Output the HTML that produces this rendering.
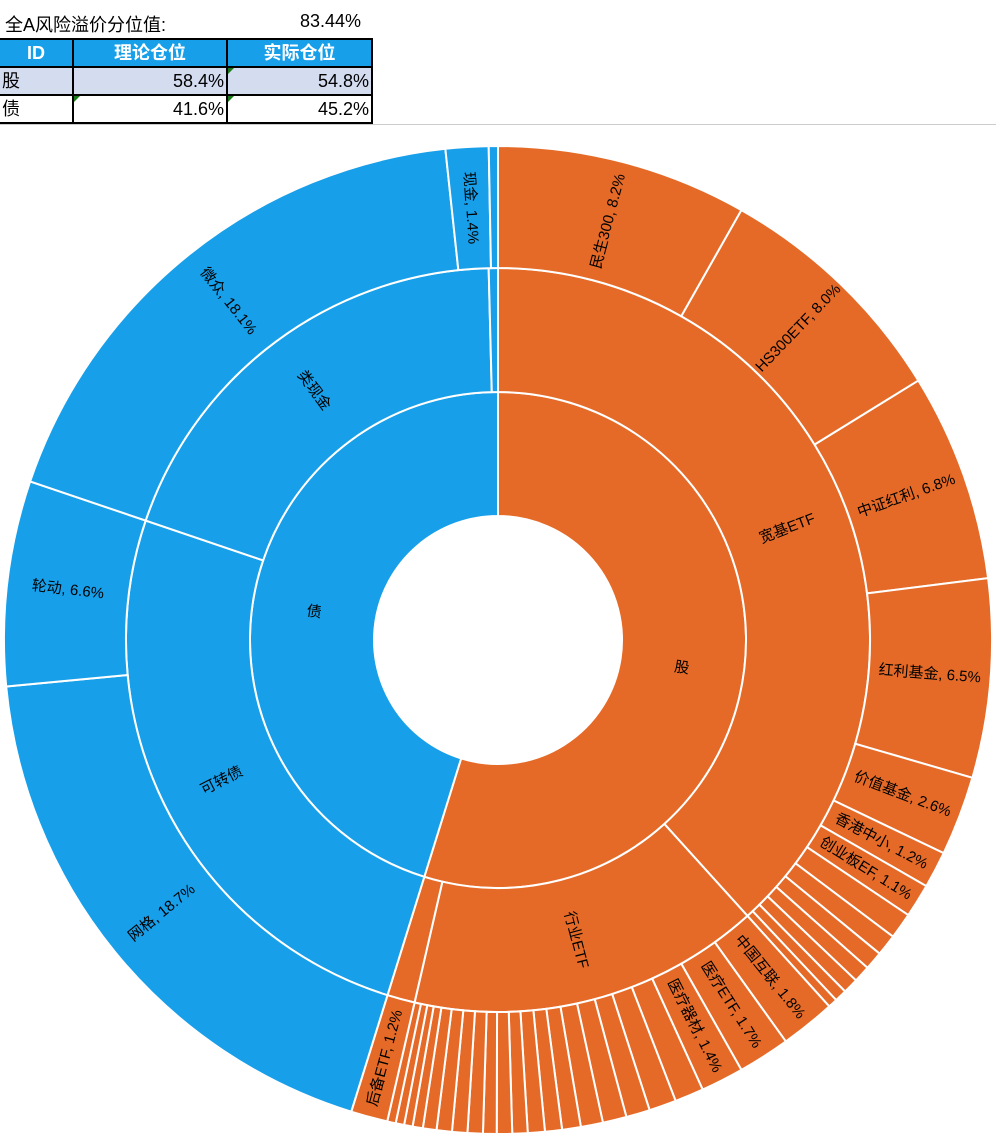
<!DOCTYPE html>
<html><head><meta charset="utf-8"><style>
html,body{margin:0;padding:0;background:#fff;width:996px;height:1144px;overflow:hidden;position:relative;font-family:"Liberation Sans","Noto Sans CJK SC",sans-serif}
.t{position:absolute;font-size:18px;color:#000}
table{position:absolute;left:-2px;top:38px;border-collapse:collapse;font-size:18px}
td{border:2px solid #000;height:26px;padding:0 2px;line-height:26px;position:relative;box-sizing:border-box}
.h td{background:#189fe9;color:#fff;font-weight:bold;text-align:center}
.r1 td{background:#d4dcf0}
.n{text-align:right}
.g::before{content:"";position:absolute;left:0;top:0;border-top:6px solid #1a7a1a;border-right:6px solid transparent}
svg{position:absolute;left:0;top:0}
svg text{font-family:"Liberation Sans","Noto Sans CJK SC",sans-serif;font-size:15px;fill:#000;text-anchor:middle;dominant-baseline:central}
</style></head><body>
<div class="t" style="left:5px;top:11px">全A风险溢价分位值:</div>
<div class="t" style="left:300px;top:11px">83.44%</div>
<table>
<tr class="h"><td style="width:74px">ID</td><td style="width:154px">理论仓位</td><td style="width:145px">实际仓位</td></tr>
<tr class="r1"><td style="text-align:left">股</td><td class="n">58.4%</td><td class="n g">54.8%</td></tr>
<tr><td style="text-align:left">债</td><td class="n g">41.6%</td><td class="n g">45.2%</td></tr>
</table>
<div style="position:absolute;left:0;top:124px;width:996px;height:1px;background:#ccc"></div>
<svg id="s" width="996" height="1144" viewBox="0 0 996 1144">
<g id="shapes"></g>
<g>
<text x="498" y="640" dx="433" transform="rotate(-75.24 498 640)">民生300, 8.2%</text>
<text x="498" y="640" dx="433" transform="rotate(-46.08 498 640)">HS300ETF, 8.0%</text>
<text x="498" y="640" dx="433" transform="rotate(-19.44 498 640)">中证红利, 6.8%</text>
<text x="498" y="640" dx="433" transform="rotate(4.5 498 640)">红利基金, 6.5%</text>
<text x="498" y="640" dx="433" transform="rotate(20.88 498 640)">价值基金, 2.6%</text>
<text x="498" y="640" dx="433" transform="rotate(27.72 498 640)">香港中小, 1.2%</text>
<text x="498" y="640" dx="433" transform="rotate(31.86 498 640)">创业板EF, 1.1%</text>
<text x="498" y="640" dx="433" transform="rotate(51.12 498 640)">中国互联, 1.8%</text>
<text x="498" y="640" dx="433" transform="rotate(57.42 498 640)">医疗ETF, 1.7%</text>
<text x="498" y="640" dx="433" transform="rotate(63 498 640)">医疗器材, 1.4%</text>
<text x="498" y="640" dx="-433" transform="rotate(-74.88 498 640)">后备ETF, 1.2%</text>
<text x="498" y="640" dx="-433" transform="rotate(-39.06 498 640)">网格, 18.7%</text>
<text x="498" y="640" dx="-433" transform="rotate(6.66 498 640)">轮动, 6.6%</text>
<text x="498" y="640" dx="-433" transform="rotate(51.48 498 640)">微众, 18.1%</text>
<text x="498" y="640" dx="-433" transform="rotate(86.4 498 640)">现金, 1.4%</text>
<text x="498" y="640" dx="310" transform="rotate(-21.06 498 640)">宽基ETF</text>
<text x="498" y="640" dx="310" transform="rotate(75.42 498 640)">行业ETF</text>
<text x="498" y="640" dx="-310" transform="rotate(-27 498 640)">可转债</text>
<text x="498" y="640" dx="-310" transform="rotate(53.6 498 640)">类现金</text>
<text x="498" y="640" dx="186" transform="rotate(8.64 498 640)">股</text>
<text x="498" y="640" dx="-186" transform="rotate(8.64 498 640)">债</text>
</g>
</svg>
<script>
(function(){
var cx=498,cy=640,O='#e56a28',B='#189fe9';
var g=document.getElementById('shapes'),h='';
function pt(r,p){var a=p*3.6*Math.PI/180;return [cx+r*Math.sin(a),cy-r*Math.cos(a)];}
function seg(r0,r1,p0,p1,c){var l=(p1-p0)>50?1:0,a=pt(r1,p0),b=pt(r1,p1),d=pt(r0,p1),e=pt(r0,p0);
h+='<path d="M'+a+' A'+r1+','+r1+' 0 '+l+' 1 '+b+' L'+d+' A'+r0+','+r0+' 0 '+l+' 0 '+e+'Z" fill="'+c+'" stroke="#fff" stroke-width="2"/>';}
function ring(r0,r1,start,list,c){var p=start;list.forEach(function(v){seg(r0,r1,p,p+v,c);p+=v;});}
seg(124,248,0,54.8,O);seg(124,248,54.8,100,B);
seg(248,372,0,38.3,O);seg(248,372,38.3,53.6,O);seg(248,372,53.6,54.8,O);
seg(248,372,54.8,80.2,B);seg(248,372,80.2,99.6,B);seg(248,372,99.6,100,B);
ring(372,494,0,[8.2,8.0,6.8,6.5,2.6,1.2,1.1,0.85,0.7,0.6,0.55,0.5,0.4,0.3],O);
var w=[85,80,70,70,65,55,50,50,45,45,40,45,45,45,40,30,25,25,25],s=0;w.forEach(function(v){s+=v;});
w=w.map(function(v){return v*10.4/s;});
ring(372,494,38.3,[1.8,1.7,1.4].concat(w),O);
seg(372,494,53.6,54.8,O);
ring(372,494,54.8,[18.7,6.7,18.1,1.4,0.3],B);
g.innerHTML=h;
})();
</script>
</body></html>
